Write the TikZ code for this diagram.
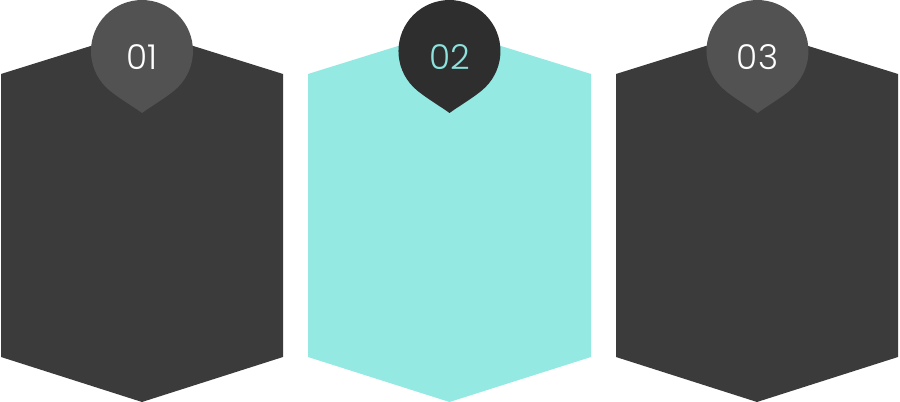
\documentclass[tikz,border=0pt]{standalone}
\usepackage{fontspec}
\setmainfont{Poppins}[UprightFont={* Light}]
\usepackage{tikz}
\usetikzlibrary{positioning}
\definecolor{panelgray}{HTML}{3B3B3B}
\definecolor{panelcyan}{HTML}{94E9E3}
\definecolor{pingray}{HTML}{525252}
\definecolor{pindark}{HTML}{2E2E2E}
\definecolor{numcyan}{HTML}{8EE2DD}
% drop-shaped badge: #1 = centre x, #2 = fill colour
\newcommand{\droppin}[2]{%
  \fill[#2] (#1,289) .. controls (#1-8,295) and (#1-27.6,306.4) .. (#1-36.1,314.9)
    arc[start angle=225, end angle=-45, radius=51]
    .. controls (#1+27.6,306.4) and (#1+8,295) .. (#1,289) -- cycle;}

\begin{document}
\begin{tikzpicture}[x=0.02cm, y=0.02cm,
    num/.style={font=\fontsize{19.5}{21}\selectfont, inner sep=0pt}]
  \useasboundingbox (0,0) rectangle (900,402);
  % Panels
  \fill[panelgray] (1,328) -- (142,372) -- (283,328) -- (283,45) -- (142,0) -- (1,45) -- cycle;
  \fill[panelcyan] (308,328) -- (449.5,372) -- (591,328) -- (591,45) -- (449.5,0) -- (308,45) -- cycle;
  \fill[panelgray] (616,328) -- (757,372) -- (898,328) -- (898,45) -- (757,0) -- (616,45) -- cycle;
  % Badges
  \droppin{142}{pingray}
  \droppin{449.5}{pindark}
  \droppin{757.5}{pingray}
  \node[num, white]   (one)   at (142,345)   {01};
  \node[num, numcyan] (two)   at (449.5,345) {02};
  \node[num, white]   (three) at (757.5,345) {03};
\end{tikzpicture}
\end{document}
